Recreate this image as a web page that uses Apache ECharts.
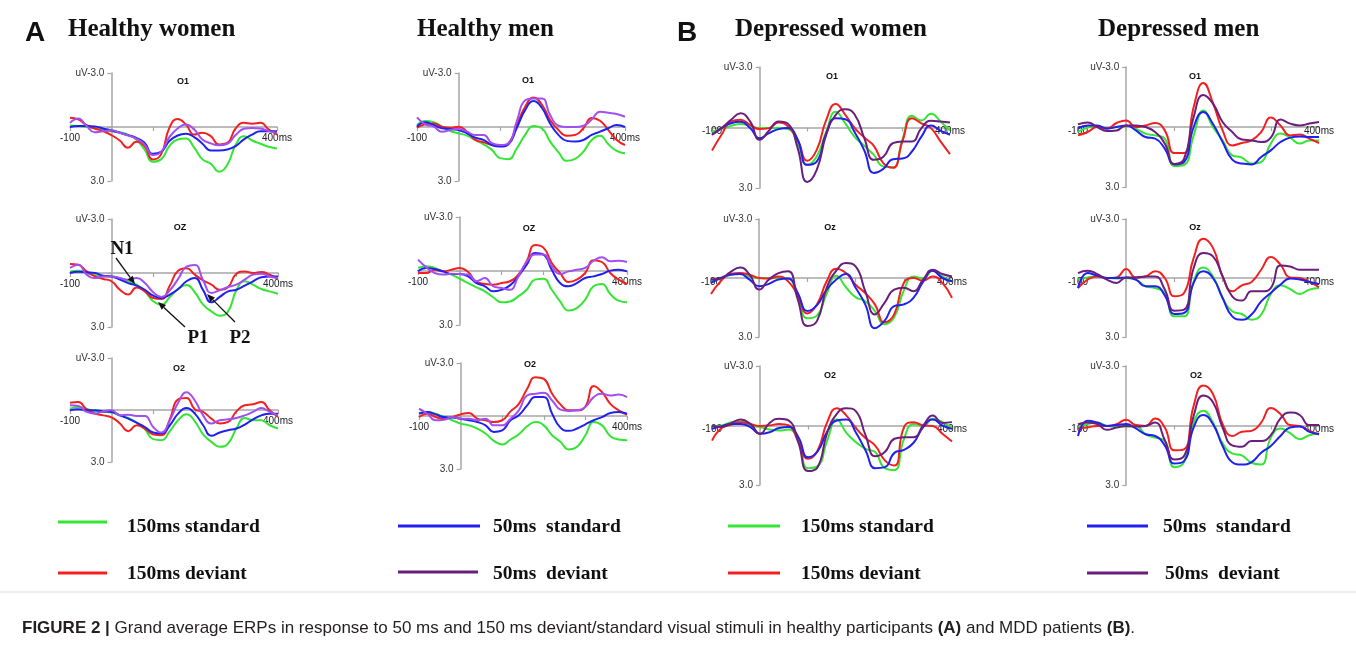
<!DOCTYPE html>
<html>
<head>
<meta charset="utf-8">
<title>Grand average ERPs</title>
<script src="https://cdn.jsdelivr.net/npm/echarts@6/dist/echarts.min.js"></script>
<style>
  html, body { margin: 0; padding: 0; background: #fff; }
  #chart { width: 1356px; height: 647px; }
</style>
</head>
<body>
<div id="chart"></div>
<script>
// sample times (ms) shared by every trace
var times = [-100, -80, -60, -40, -20, 0, 20, 40, 60, 80, 100, 120, 140, 160, 180, 200, 220, 240, 260, 280, 300, 320, 340, 360, 380, 400];

// Healthy women
var hwO1Std150 = [-0.08,-0.05,0,0.08,0.18,0.23,0.29,0.42,0.69,1.25,1.93,1.8,1.06,0.69,0.64,1.15,1.8,2.04,2.48,2.1,1.0,0.51,0.75,0.93,1.1,1.19];
var hwO1Dev150 = [-0.51,-0.42,-0.1,0.08,0.23,0.45,0.75,1.15,0.82,1.06,1.8,1.52,0.05,-0.45,-0.14,0.42,0.32,0.51,0.97,0.88,0.08,-0.23,-0.18,-0.23,0.14,0.42];
var hwO1Std50 = [0,-0.05,-0.05,-0.03,0.08,0.19,0.32,0.45,0.6,0.88,1.49,1.38,0.78,0.47,0.38,0.56,0.93,1.3,1.3,1.25,1.06,0.69,0.42,0.23,0.23,0.23];
var hwO1Dev50 = [-0.23,-0.47,-0.05,0.29,0.23,0.18,0.32,0.47,0.64,0.97,1.56,1.38,0.56,0.08,-0.14,0.14,0.69,0.91,1.01,0.93,0.45,0.1,0.05,0.08,0.23,0.32];

var hwOzStd150 = [-0.09,-0.13,0,0.13,0.19,0.19,0.28,0.46,0.65,1.02,1.57,1.76,1.33,0.89,0.67,1.07,1.76,2.13,2.37,2.13,0.96,0.46,0.65,0.89,1.02,1.15];
var hwOzDev150 = [-0.5,-0.46,-0.09,0.19,0.33,0.46,0.93,1.2,0.8,1.02,1.39,1.44,0.7,-0.13,-0.26,0.09,0.41,0.65,0.93,0.78,0.04,-0.09,0,-0.06,0.09,0.33];
var hwOzStd50 = [0,-0.07,-0.04,0,0.15,0.19,0.37,0.56,0.7,0.93,1.26,1.39,1.2,0.89,0.46,0.28,0.95,1.63,1.33,1.02,0.93,0.7,0.46,0.24,0.19,0.19];
var hwOzDev50 = [-0.28,-0.46,0.09,0.28,0.19,0.19,0.28,0.37,0.28,0.56,1.07,1.33,0.96,0.33,-0.35,-0.45,0.41,1.11,0.96,0.78,0.65,0.37,0.09,0.04,0.19,0.28];

var hwO2Std150 = [-0.08,-0.17,-0.08,0.08,0.11,0.15,0.31,0.46,0.73,1.11,1.68,1.74,1.22,0.59,0.25,0.65,1.41,1.84,2.12,1.93,1.07,0.46,0.59,0.59,0.88,1.07];
var hwO2Dev150 = [-0.42,-0.46,-0.04,0.21,0.31,0.42,0.78,1.22,0.88,1.07,1.41,1.45,0.54,-0.61,-0.69,-0.04,0.11,0.5,0.78,0.69,0.08,-0.27,-0.33,-0.46,0.02,0.4];
var hwO2Std50 = [0.02,-0.04,0.02,0.02,0.08,0.11,0.31,0.5,0.73,0.98,1.3,1.36,0.88,0.21,-0.11,0.21,0.88,1.49,1.3,1.17,1.07,0.84,0.54,0.31,0.21,0.21];
var hwO2Dev50 = [-0.27,-0.23,0.11,0.21,0.08,0.02,0.31,0.27,0.34,0.34,0.98,1.3,0.59,-0.42,-1.03,-0.55,0.31,0.78,0.59,0.54,0.46,0.31,0.11,-0.11,0.11,0.31];

// Healthy men
var hmO1Std150 = [-0.11,-0.33,-0.26,-0.02,0.22,0.35,0.48,0.72,0.96,1.27,1.73,1.79,1.18,0.44,-0.06,0.07,0.81,1.4,1.88,1.77,1.37,0.72,0.48,0.96,1.33,1.46];
var hmO1Dev150 = [0.04,-0.15,-0.2,-0.02,0.04,-0.02,0.26,0.72,0.85,1.0,1.05,0.9,-0.11,-1.13,-1.64,-1.25,-0.39,0.17,0.48,0.44,0.07,-0.5,-0.35,0.17,0.72,1.0];
var hmO1Std50 = [-0.02,-0.26,-0.11,0.07,0.11,0.17,0.35,0.59,0.72,1.0,1.09,0.96,0.04,-0.94,-1.44,-1.07,-0.2,0.44,0.77,0.81,0.72,0.44,0.26,0.07,-0.11,0];
var hmO1Dev50 = [-0.54,-0.15,-0.02,0.26,0.17,0.11,0.26,0.44,0.44,0.9,1.0,0.9,-0.33,-1.49,-1.59,-1.59,-0.66,-0.07,0,0,-0.07,-0.42,-0.85,-0.79,-0.72,-0.57];

var hmOzStd150 = [-0.17,-0.26,-0.17,0.02,0.2,0.43,0.67,0.91,1.13,1.46,1.74,1.69,1.41,1.04,0.48,0.43,1.04,1.69,2.2,2.06,1.59,0.85,0.72,1.28,1.65,1.74];
var hmOzDev150 = [0.11,0.11,-0.07,0.02,-0.07,-0.17,0.06,0.61,0.72,0.76,0.67,0.57,0.2,-0.54,-1.45,-1.3,-0.44,0.11,0.61,0.48,0.11,-0.6,-0.5,0.11,0.48,0.72];
var hmOzStd50 = [0.02,-0.17,-0.11,0.02,0.17,0.17,0.3,0.67,0.85,1.13,1.04,0.8,0.3,-0.35,-1.0,-0.91,-0.07,0.67,0.85,0.67,0.39,0.3,0.17,-0.02,-0.07,0.02];
var hmOzDev50 = [-0.63,-0.2,0.11,0.2,0.15,0.17,0.2,0.57,0.39,0.85,0.94,1.04,0.3,-0.5,-0.91,-0.91,-0.26,0.17,0.02,-0.07,-0.17,-0.57,-0.76,-0.54,-0.57,-0.5];

var hmO2Std150 = [-0.17,-0.23,-0.13,0.06,0.24,0.43,0.53,0.71,0.99,1.41,1.61,1.33,1.03,0.58,0.34,0.53,1.09,1.46,1.89,1.74,1.09,0.34,0.53,1.14,1.33,1.37];
var hmO2Dev150 = [0.06,-0.13,0.06,0.15,0.06,-0.09,-0.17,0.15,0.24,0.34,0.24,-0.26,-0.69,-1.54,-2.2,-2.1,-1.26,-0.66,-0.32,-0.32,-0.54,-1.7,-1.35,-0.69,-0.32,-0.08];
var hmO2Std50 = [-0.13,-0.23,-0.09,0.06,0.09,0.15,0.24,0.34,0.53,0.9,0.81,0.24,-0.04,-0.6,-1.07,-1.07,-0.13,0.66,0.84,0.71,0.47,0.24,0.06,-0.17,-0.23,-0.13];
var hmO2Dev50 = [-0.41,-0.13,0.24,0.21,0.06,0.15,0.15,0.24,0.15,0.53,0.53,0.15,-0.32,-1.16,-1.26,-1.31,-0.88,-0.36,-0.28,-0.32,-0.51,-1.07,-1.26,-1.16,-1.22,-1.07];

// Depressed women
var dwO1Std150 = [0.2,0.08,-0.08,-0.17,-0.08,0.03,0.03,0.03,0.08,0.78,1.85,1.44,0.2,-0.78,-0.2,0.48,0.91,1.36,1.93,1.97,0.61,-0.58,-0.35,-0.68,-0.3,0.15];
var dwO1Dev150 = [1.14,0.36,-0.3,-0.38,-0.13,0.08,0.03,-0.25,-0.05,0.61,1.65,1.11,-0.38,-1.17,-0.63,0.03,0.5,0.91,1.77,2.0,0.69,-0.46,-0.21,0.03,0.69,1.32];
var dwO1Std50 = [0.36,0.03,-0.21,-0.28,0.03,0.53,0.28,0.08,0.03,0.61,1.85,1.69,0.28,-0.46,-0.41,0.25,1.14,2.25,2.05,1.57,1.54,1.19,0.45,-0.1,0.15,0.36];
var dwO1Dev50 = [0.36,0.03,-0.38,-0.71,-0.3,0.61,0.15,-0.3,-0.18,1.02,2.7,2.1,0.36,-0.63,-0.9,-0.63,0.53,1.6,1.45,0.78,0.69,0.69,0.03,-0.33,-0.3,-0.25];

var dwOzStd150 = [0.13,0.03,-0.17,-0.22,-0.08,0,0,0,0.03,0.92,2.05,1.9,0.8,-0.12,0.47,0.97,1.18,1.68,2.35,2.0,0.64,-0.08,0.03,-0.37,-0.08,0.17];
var dwOzDev150 = [0.81,0.17,-0.2,-0.25,-0.17,0,0.03,-0.08,0.17,0.87,1.8,1.34,0.17,-0.47,-0.25,0.34,0.76,1.34,2.25,1.85,0.25,0,0.13,-0.08,0.25,1.01];
var dwOzStd50 = [0.25,0,-0.17,-0.2,0.08,0.42,0.3,0.08,0.03,0.76,1.68,1.38,0.59,0.08,-0.2,0.5,1.34,2.55,2.18,1.43,1.34,1.01,0.2,-0.37,0,0.17];
var dwOzDev50 = [0.08,0.03,-0.3,-0.54,-0.17,0.59,0.08,-0.25,-0.34,1.09,2.44,2.18,0.5,-0.37,-0.76,-0.59,0.67,1.85,1.26,0.59,0.5,0.67,0.08,-0.42,-0.2,-0.08];

var dwO2Std150 = [0.03,0,-0.17,-0.2,0,0.08,0.2,0.25,0.2,0.81,2.15,2.05,0.76,-0.3,0.37,0.84,1.18,1.34,2.15,2.25,0.67,-0.08,0.03,-0.34,-0.17,0.13];
var dwO2Dev150 = [0.76,0.13,-0.03,-0.17,-0.08,0.03,0,-0.08,0,0.81,1.68,1.26,-0.17,-0.87,-0.5,0.13,0.64,1.01,1.76,2.02,0.08,-0.17,0,0.03,0.42,0.81];
var dwO2Std50 = [0.17,0.03,-0.08,-0.08,0.08,0.42,0.34,0.13,0.08,0.59,1.6,1.31,0.3,-0.25,-0.3,0.37,1.26,2.15,2.1,1.38,1.23,0.87,0.08,-0.3,0,0.17];
var dwO2Dev50 = [0.03,0.07,-0.12,-0.3,-0.08,0.42,-0.13,-0.34,-0.25,0.87,2.3,2.1,0.37,-0.59,-0.87,-0.71,0.5,1.55,1.34,0.67,0.59,0.59,0,-0.5,-0.13,-0.17];

// Depressed men
var dmO1Std150 = [0.25,0.03,-0.03,0.08,0,-0.05,0.08,0.33,0.42,0.58,1.95,1.9,0.42,-0.83,0,0.67,1.42,1.53,1.83,1.75,0.83,0.33,0.53,0.83,0.67,0.67];
var dmO1Dev150 = [0.42,0.25,0,0.08,-0.2,-0.33,0,-0.08,-0.2,0.17,1.3,1.3,-1.0,-2.2,-1.2,0.17,0.92,0.8,0.67,0.25,-0.47,-0.08,0.42,0.37,0.58,0.8];
var dmO1Std50 = [0.08,-0.08,-0.08,0.08,0,-0.08,0.17,0.5,0.58,1.08,1.87,1.75,0,-0.75,-0.15,0.75,1.63,1.83,1.87,1.5,1.17,0.75,0.53,0.47,0.5,0.5];
var dmO1Dev50 = [-0.13,-0.23,0,0.2,0.17,-0.08,-0.08,0,0.25,0.83,1.85,1.6,-0.5,-1.6,-1.17,-0.25,0.25,0.63,0.67,0.75,0.53,-0.37,-0.17,-0.08,-0.17,-0.25];

var dmOzStd150 = [0.08,-0.03,-0.08,0,0.03,0,0.08,0.42,0.51,0.76,1.95,1.95,0.17,-0.54,-0.08,1.02,1.69,1.83,2.12,1.86,0.81,0.37,0.56,0.81,0.59,0.51];
var dmOzDev150 = [0.51,0.08,-0.08,0,-0.03,-0.46,-0.03,-0.08,-0.34,0,0.93,0.76,-1.02,-2.0,-1.53,-0.08,0.68,0.37,0.2,-0.42,-1.07,-0.68,-0.03,0,0.2,0.47];
var dmOzStd50 = [0.51,-0.25,-0.12,0,0,-0.03,0.08,0.42,0.42,0.88,1.83,1.78,0.25,-0.34,0,1.02,1.95,2.12,1.86,1.19,0.76,0.34,0.03,0.08,0.2,0.31];
var dmOzDev50 = [-0.25,-0.37,-0.2,0.08,0.25,-0.03,-0.03,-0.08,-0.08,0.59,1.66,1.61,-0.51,-1.27,-1.1,-0.08,0.93,1.15,0.68,0.68,0.51,-0.64,-0.59,-0.42,-0.42,-0.42];

var dmO2Std150 = [0.1,-0.07,-0.15,0.02,0.05,0.05,0.02,0.44,0.61,0.78,2.1,1.85,-0.15,-0.75,-0.15,0.9,1.41,1.51,1.88,1.97,0.61,0.15,0.39,0.69,0.49,0.39];
var dmO2Dev150 = [0.15,0.1,0.02,0.02,-0.07,-0.29,-0.02,0.02,-0.35,0.1,1.25,1.2,-1.0,-2.02,-1.59,-0.07,0.53,0.32,0.27,-0.15,-0.88,-0.58,-0.02,0.02,0.27,0.44];
var dmO2Std50 = [0.53,-0.24,-0.15,0.02,-0.02,-0.07,0.15,0.44,0.53,1.0,1.92,1.8,0.1,-0.53,-0.07,1.03,1.85,1.97,1.85,1.37,1.03,0.53,0.1,0.05,0.32,0.44];
var dmO2Dev50 = [-0.07,-0.15,-0.07,0.22,0.1,0.02,0.05,0.02,-0.15,0.73,1.71,1.54,-0.49,-1.51,-1.17,0.1,1.0,1.07,0.78,0.78,0.49,-0.36,-0.66,-0.53,-0.02,-0.02];

var conditionNames = ['150ms standard', '150ms deviant', '50ms standard', '50ms deviant'];

var green = '#33e633', red = '#f42020', blue = '#2020f0';
var lightViolet = '#a24ff2', darkViolet = '#6a1f7c';
var axisGrey = '#a6a6a6';
var serif = '"Liberation Serif", "Times New Roman", serif';
var sans = '"Liberation Sans", Arial, sans-serif';

// panel boxes: [left, top, width, height] of the -100..400 ms / -3..3 uV area
var panels = [
  { box: [70, 73, 207, 108], label: 'O1', at: [183, 82], lines: [hwO1Std150, hwO1Dev150, hwO1Std50, hwO1Dev50], violet: lightViolet, gap: 6 },
  { box: [70, 219, 208, 108], label: 'OZ', at: [180, 228], lines: [hwOzStd150, hwOzDev150, hwOzStd50, hwOzDev50], violet: lightViolet, gap: 6 },
  { box: [70, 358, 208, 104], label: 'O2', at: [179, 369], lines: [hwO2Std150, hwO2Dev150, hwO2Std50, hwO2Dev50], violet: lightViolet, gap: 6 },
  { box: [417, 73, 208, 108], label: 'O1', at: [528, 81], lines: [hmO1Std150, hmO1Dev150, hmO1Std50, hmO1Dev50], violet: lightViolet, gap: 6 },
  { box: [418, 217, 209, 108], label: 'OZ', at: [529, 229], lines: [hmOzStd150, hmOzDev150, hmOzStd50, hmOzDev50], violet: lightViolet, gap: 6 },
  { box: [419, 363, 208, 106], label: 'O2', at: [530, 365], lines: [hmO2Std150, hmO2Dev150, hmO2Std50, hmO2Dev50], violet: lightViolet, gap: 6 },
  { box: [712, 67, 238, 121], label: 'O1', at: [832, 77], lines: [dwO1Std150, dwO1Dev150, dwO1Std50, dwO1Dev50], violet: darkViolet, gap: -1 },
  { box: [711, 219, 241, 118], label: 'Oz', at: [830, 228], lines: [dwOzStd150, dwOzDev150, dwOzStd50, dwOzDev50], violet: darkViolet, gap: -1 },
  { box: [712, 366, 240, 119], label: 'O2', at: [830, 376], lines: [dwO2Std150, dwO2Dev150, dwO2Std50, dwO2Dev50], violet: darkViolet, gap: -1 },
  { box: [1078, 67, 241, 120], label: 'O1', at: [1195, 77], lines: [dmO1Std150, dmO1Dev150, dmO1Std50, dmO1Dev50], violet: darkViolet, gap: -1 },
  { box: [1078, 219, 241, 118], label: 'Oz', at: [1195, 228], lines: [dmOzStd150, dmOzDev150, dmOzStd50, dmOzDev50], violet: darkViolet, gap: -1 },
  { box: [1078, 366, 241, 119], label: 'O2', at: [1196, 376], lines: [dmO2Std150, dmO2Dev150, dmO2Std50, dmO2Dev50], violet: darkViolet, gap: -1 }
];

function text(x, y, s, font, align, color) {
  return {
    type: 'text', x: x, y: y, z: 100,
    style: {
      text: s, font: font, fill: color || '#111',
      textAlign: align || 'left', align: align || 'left',
      textVerticalAlign: 'middle', verticalAlign: 'middle'
    }
  };
}

function arrow(x1, y1, x2, y2) {
  var a = Math.atan2(y2 - y1, x2 - x1), len = 8, w = 3.2;
  var bx = x2 - len * Math.cos(a), by = y2 - len * Math.sin(a);
  var px = -Math.sin(a) * w, py = Math.cos(a) * w;
  return [
    { type: 'line', z: 100, shape: { x1: x1, y1: y1, x2: bx, y2: by }, style: { stroke: '#111', lineWidth: 1.3 } },
    { type: 'polygon', z: 100, shape: { points: [[x2, y2], [bx + px, by + py], [bx - px, by - py]] }, style: { fill: '#111' } }
  ];
}

function legendItem(x1, x2, y, tx, ty, label, color) {
  return [
    { type: 'line', z: 100, shape: { x1: x1, y1: y, x2: x2, y2: y }, style: { stroke: color, lineWidth: 3 } },
    text(tx, ty, label, 'bold 19.5px ' + serif, 'left', '#111')
  ];
}

var grids = [], xAxes = [], yAxes = [], series = [], graphics = [];

panels.forEach(function (p, i) {
  var w = p.box[2], h = p.box[3];
  grids.push({ left: p.box[0], top: p.box[1], width: w, height: h });
  // labels stay at the grid edge even when the line sits on zero, so pull them in
  xAxes.push({
    type: 'value', gridIndex: i, min: -100, max: 400, interval: 100,
    axisLine: { onZero: true, lineStyle: { color: axisGrey, width: 1.5 } },
    axisTick: { length: 4, lineStyle: { color: axisGrey, width: 1.2 } },
    splitLine: { show: false },
    axisLabel: {
      margin: p.gap - h / 2, fontSize: 10, color: '#222', fontFamily: sans,
      formatter: function (v) { return v === -100 ? '-100' : (v === 400 ? '400ms' : ''); }
    }
  });
  yAxes.push({
    type: 'value', gridIndex: i, min: -3, max: 3, interval: 3, inverse: true,
    axisLine: { onZero: true, lineStyle: { color: axisGrey, width: 1.5 } },
    axisTick: { length: 4, lineStyle: { color: axisGrey, width: 1.2 } },
    splitLine: { show: false },
    axisLabel: {
      margin: 7 - w / 5, fontSize: 10, color: '#333', fontFamily: sans,
      formatter: function (v) { return v === -3 ? 'uV-3.0' : (v === 3 ? '3.0' : ''); }
    }
  });
  var colors = [green, red, blue, p.violet];
  p.lines.forEach(function (vals, k) {
    series.push({
      name: conditionNames[k], type: 'line', xAxisIndex: i, yAxisIndex: i,
      data: times.map(function (t, j) { return [t, vals[j]]; }),
      smooth: 0.5, symbol: 'none', silent: true,
      lineStyle: { width: 2, color: colors[k] },
      itemStyle: { color: colors[k] }
    });
  });
  graphics.push(text(p.at[0], p.at[1], p.label, 'bold 9px ' + sans, 'center', '#111'));
});

// panel headings
graphics.push(text(25, 33, 'A', 'bold 28px ' + sans));
graphics.push(text(68, 30, 'Healthy women', 'bold 25px ' + serif));
graphics.push(text(417, 30, 'Healthy men', 'bold 25px ' + serif));
graphics.push(text(677, 33, 'B', 'bold 28px ' + sans));
graphics.push(text(735, 30, 'Depressed women', 'bold 25px ' + serif));
graphics.push(text(1098, 30, 'Depressed men', 'bold 25px ' + serif));

// component labels in the healthy women Oz panel
graphics.push(text(122, 249, 'N1', 'bold 19px ' + serif, 'center'));
graphics.push(text(198, 338, 'P1', 'bold 19px ' + serif, 'center'));
graphics.push(text(240, 338, 'P2', 'bold 19px ' + serif, 'center'));
graphics = graphics.concat(arrow(116, 258, 135, 284));
graphics = graphics.concat(arrow(185, 327, 158, 302));
graphics = graphics.concat(arrow(235, 322, 207, 294));

// legends
graphics = graphics.concat(legendItem(58, 107, 522, 127, 527, '150ms standard', green));
graphics = graphics.concat(legendItem(58, 107, 573, 127, 574, '150ms deviant', red));
graphics = graphics.concat(legendItem(398, 480, 526, 493, 527, '50ms  standard', blue));
graphics = graphics.concat(legendItem(398, 478, 572, 493, 574, '50ms  deviant', darkViolet));
graphics = graphics.concat(legendItem(728, 780, 526, 801, 527, '150ms standard', green));
graphics = graphics.concat(legendItem(728, 780, 573, 801, 574, '150ms deviant', red));
graphics = graphics.concat(legendItem(1087, 1148, 526, 1163, 527, '50ms  standard', blue));
graphics = graphics.concat(legendItem(1087, 1148, 573, 1165, 574, '50ms  deviant', darkViolet));

// caption
graphics.push({ type: 'line', z: 100, shape: { x1: 0, y1: 592, x2: 1356, y2: 592 }, style: { stroke: '#d9d9d9', lineWidth: 1 } });
graphics.push({
  type: 'text', x: 22, y: 628, z: 100,
  style: {
    text: '{b|FIGURE 2 |} Grand average ERPs in response to 50 ms and 150 ms deviant/standard visual stimuli in healthy participants {b|(A)} and MDD patients {b|(B)}.',
    fontSize: 17, fontFamily: sans, fill: '#231f20',
    textVerticalAlign: 'middle', verticalAlign: 'middle',
    rich: { b: { fontWeight: 'bold', fontSize: 17, fontFamily: sans, fill: '#231f20' } }
  }
});

var chart = echarts.init(document.getElementById('chart'), null, { renderer: 'canvas' });
chart.setOption({
  backgroundColor: '#ffffff',
  animation: false,
  grid: grids,
  xAxis: xAxes,
  yAxis: yAxes,
  series: series,
  graphic: graphics
});
</script>
</body>
</html>
